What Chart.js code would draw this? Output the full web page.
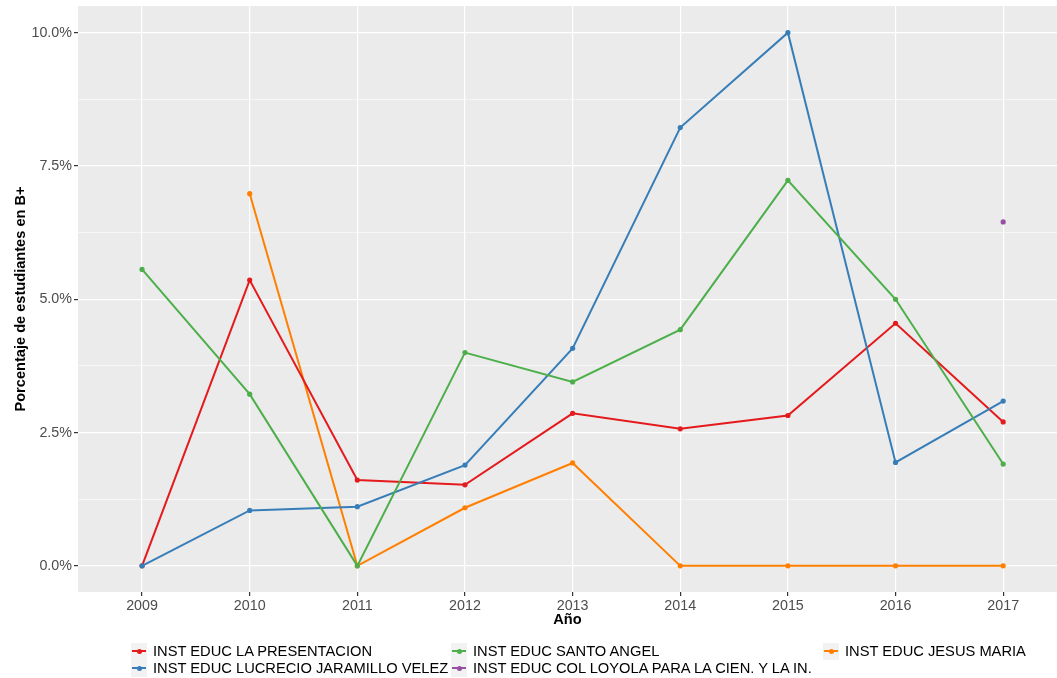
<!DOCTYPE html>
<html>
<head>
<meta charset="utf-8">
<script src="https://cdn.jsdelivr.net/npm/chart.js@4"></script>
<style>
  html, body { margin: 0; padding: 0; background: #ffffff; }
  #wrap { position: relative; width: 1057px; height: 678px; font-family: "Liberation Sans", Arial, sans-serif; }
  #chart { position: absolute; left: 0; top: 0; }
  .item { position: absolute; height: 17px; display: flex; align-items: center; font-size: 14.7px; color: #000; white-space: nowrap; }
  .key { position: relative; width: 16px; height: 17px; background: #f2f2f2; margin-right: 6px; flex: none; }
  .key .ln { position: absolute; left: 1px; top: 7.8px; width: 14px; height: 1.6px; }
  .key .dt { position: absolute; left: 5.5px; top: 6px; width: 5px; height: 5px; border-radius: 50%; }
</style>
</head>
<body>
<div id="wrap">
  <canvas id="chart" width="1057" height="678"></canvas>
  <div id="legend"></div>
</div>
<script>
// data
const years = [2009, 2010, 2011, 2012, 2013, 2014, 2015, 2016, 2017];
const presentacion = [0, 5.36, 1.61, 1.52, 2.86, 2.57, 2.82, 4.55, 2.70];
const lucrecio = [0, 1.04, 1.11, 1.89, 4.08, 8.22, 10.0, 1.94, 3.09];
const santoAngel = [5.56, 3.22, 0, 4.00, 3.45, 4.43, 7.23, 5.00, 1.91];
const loyola = [null, null, null, null, null, null, null, null, 6.45];
const jesusMaria = [null, 6.98, 0, 1.09, 1.93, 0, 0, 0, 0];
const yTicks = [0, 2.5, 5, 7.5, 10];
const yMinor = [1.25, 3.75, 6.25, 8.75];

const series = [
    { label: 'INST EDUC LA PRESENTACION', values: presentacion, color: '#E41A1C', order: 2, col: 0, row: 0 },
    { label: 'INST EDUC LUCRECIO JARAMILLO VELEZ', values: lucrecio, color: '#377EB8', order: 1, col: 0, row: 1 },
    { label: 'INST EDUC SANTO ANGEL', values: santoAngel, color: '#4DAF4A', order: 0, col: 1, row: 0 },
    { label: 'INST EDUC COL LOYOLA PARA LA CIEN. Y LA IN.', values: loyola, color: '#984EA3', order: 4, col: 1, row: 1 },
    { label: 'INST EDUC JESUS MARIA', values: jesusMaria, color: '#FF7F00', order: 3, col: 2, row: 0 }
];

const font = 'Liberation Sans';

// grey panel behind the plot
const panelBg = {
    id: 'panelBg',
    beforeDraw(chart) {
        const a = chart.chartArea;
        const ctx = chart.ctx;
        ctx.save();
        ctx.fillStyle = '#EBEBEB';
        ctx.fillRect(a.left, a.top, a.right - a.left, a.bottom - a.top);
        ctx.restore();
    }
};

const isMajor = v => yTicks.includes(v);

new Chart(document.getElementById('chart').getContext('2d'), {
    type: 'line',
    data: {
        datasets: series.map(s => ({
            label: s.label,
            data: years.map((y, i) => ({ x: y, y: s.values[i] })),
            borderColor: s.color,
            backgroundColor: s.color,
            borderWidth: 2,
            pointRadius: 2.6,
            pointBorderWidth: 0,
            pointHoverRadius: 2.6,
            tension: 0,
            order: s.order
        }))
    },
    options: {
        responsive: false,
        animation: false,
        layout: { autoPadding: false, padding: { top: 6, right: 0, bottom: 46, left: 0 } },
        plugins: {
            legend: { display: false },
            tooltip: { enabled: false }
        },
        scales: {
            x: {
                type: 'linear',
                min: 2008.405,
                max: 2017.5,
                afterBuildTicks: scale => { scale.ticks = years.map(v => ({ value: v })); },
                afterFit: scale => {
                    scale.height = 40;
                    scale.paddingLeft = 0;
                    scale.paddingRight = 0;
                },
                border: { display: false },
                grid: { color: '#ffffff', lineWidth: 1.2, tickLength: 4, tickColor: '#333333', drawTicks: true },
                ticks: {
                    color: '#4D4D4D',
                    padding: 1,
                    maxRotation: 0,
                    font: { family: font, size: 14.3 },
                    callback: v => String(v)
                },
                title: {
                    display: true,
                    text: 'Año',
                    color: '#000000',
                    padding: { top: 0, bottom: 3 },
                    font: { family: font, size: 14.6, weight: 'bold' }
                }
            },
            y: {
                min: -0.49,
                max: 10.5,
                afterBuildTicks: scale => {
                    scale.ticks = yTicks.concat(yMinor).sort((a, b) => a - b).map(v => ({ value: v }));
                },
                afterFit: scale => {
                    scale.width = 78;
                    scale.paddingTop = 0;
                    scale.paddingBottom = 0;
                },
                border: { display: false },
                grid: {
                    color: '#ffffff',
                    lineWidth: ctx => isMajor(ctx.tick.value) ? 1.2 : 0.6,
                    tickLength: 4,
                    tickColor: ctx => isMajor(ctx.tick.value) ? '#333333' : 'rgba(0,0,0,0)'
                },
                ticks: {
                    color: '#4D4D4D',
                    padding: 2,
                    font: { family: font, size: 14.3 },
                    callback: v => isMajor(v) ? v.toFixed(1) + '%' : ''
                },
                title: {
                    display: true,
                    text: 'Porcentaje de estudiantes en B+',
                    color: '#000000',
                    padding: { top: 12, bottom: 0 },
                    font: { family: font, size: 14.6, weight: 'bold' }
                }
            }
        }
    },
    plugins: [panelBg]
});

// legend laid out in columns like the reference
const colX = [131, 451, 823];
const rowY = [642.5, 659.5];
const legend = document.getElementById('legend');
series.forEach(s => {
    const item = document.createElement('div');
    item.className = 'item';
    item.style.left = colX[s.col] + 'px';
    item.style.top = rowY[s.row] + 'px';
    item.innerHTML = '<span class="key"><span class="ln" style="background:' + s.color + '"></span>' +
        '<span class="dt" style="background:' + s.color + '"></span></span><span>' + s.label + '</span>';
    legend.appendChild(item);
});
</script>
</body>
</html>
